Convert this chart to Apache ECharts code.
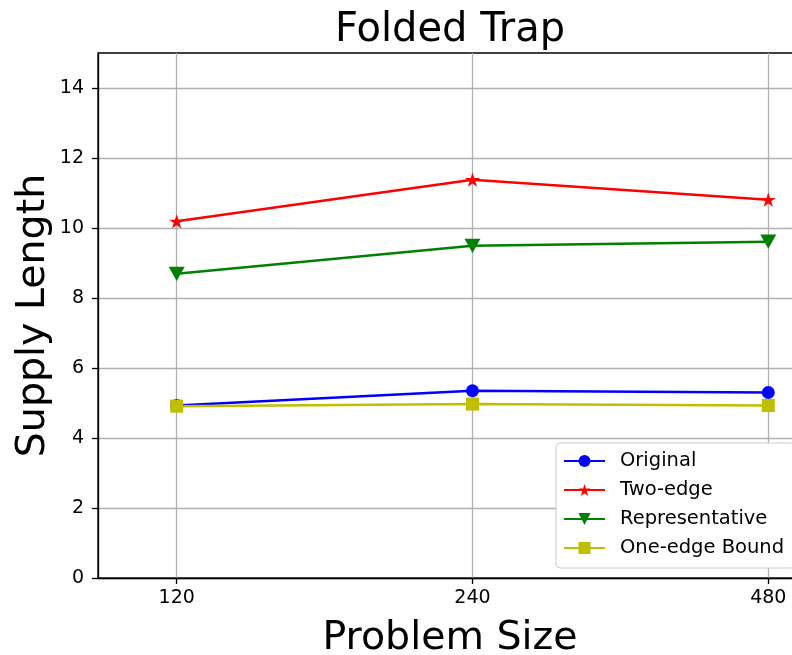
<!DOCTYPE html>
<html>
<head>
<meta charset="utf-8">
<script src="https://cdn.jsdelivr.net/npm/echarts@6/dist/echarts.min.js"></script>
<style>
  html, body { margin: 0; padding: 0; background: #fff; }
  #chart { width: 792px; height: 655px; }
</style>
</head>
<body>
<div id="chart"></div>
<script>
const sizes = ["120", "240", "480"];
const yTicks = [0, 2, 4, 6, 8, 10, 12, 14];

const original = [4.93, 5.35, 5.30];
const twoEdge = [10.19, 11.38, 10.81];
const representative = [8.69, 9.49, 9.61];
const oneEdge = [4.91, 4.97, 4.93];

const STAR = "path://M50,0L61.2,34.5L97.6,34.5L68.2,55.9L79.4,90.5L50,69.1L20.6,90.5L31.8,55.9L2.4,34.5L38.8,34.5Z";
const TRI_DOWN = "path://M0,0L100,0L50,90Z";
const FONT = "DejaVu Sans";

const chart = echarts.init(document.getElementById("chart"));

function mk(name, vals, color, symbol, size){
  return {
    name,
    type: "line",
    data: vals.map((v, i) => [i, v]),
    symbol,
    symbolSize: size,
    symbolKeepAspect: true,
    showSymbol: true,
    lineStyle: { color, width: 2.5 },
    itemStyle: { color, borderWidth: 0 },
    emphasis: { disabled: true },
    animation: false
  };
}

const series = [
  mk("Original", original, "#0000ff", "circle", 13),
  mk("Two-edge", twoEdge, "#ff0000", STAR, 15),
  mk("Representative", representative, "#008000", TRI_DOWN, 16),
  mk("One-edge Bound", oneEdge, "#bfbf00", "rect", 13)
];

chart.setOption({
  animation: false,
  backgroundColor: "#fff",
  textStyle: { fontFamily: FONT },
  title: {
    text: "Folded Trap",
    left: 450,
    textAlign: "center",
    top: 11,
    padding: 0,
    textStyle: { fontFamily: FONT, fontSize: 40, fontWeight: "normal", color: "#000" }
  },
  grid: {
    left: 98, right: -10, top: 53, bottom: 77,
    outerBoundsMode: "none",
    containLabel: false,
    show: true, borderColor: "#000", borderWidth: 1.3, backgroundColor: "transparent"
  },
  legend: {
    orient: "vertical",
    left: 556,
    top: 443,
    padding: [8, 11, 10, 7],
    itemWidth: 41,
    itemHeight: 15,
    itemGap: 9,
    backgroundColor: "#fff",
    borderColor: "#cccccc",
    borderWidth: 1,
    borderRadius: 4,
    textStyle: { fontFamily: FONT, fontSize: 19.5, lineHeight: 20, color: "#000", padding: [0, 0, 0, 10] },
    data: series.map(s => s.name)
  },
  xAxis: {
    type: "value",
    min: -0.266,
    max: 2.114,
    name: "Problem Size",
    nameLocation: "middle",
    nameGap: 41,
    nameTextStyle: { fontFamily: FONT, fontSize: 39.5, color: "#000" },
    axisLine: { show: true, onZero: false, lineStyle: { color: "#000", width: 1.3 } },
    axisTick: { show: true, length: 6, lineStyle: { color: "#000", width: 1.3 }, customValues: [0, 1, 2] },
    axisLabel: {
      customValues: [0, 1, 2],
      margin: 11,
      fontFamily: FONT, fontSize: 19, color: "#000",
      formatter: v => sizes[Math.round(v)] || ""
    },
    splitLine: { show: true, lineStyle: { color: "#b0b0b0", width: 1.3 } }
  },
  yAxis: {
    type: "value",
    min: 0,
    max: 15,
    name: "Supply Length",
    nameLocation: "middle",
    nameRotate: 90,
    nameGap: 44,
    nameMoveOverlap: false,
    nameTextStyle: { fontFamily: FONT, fontSize: 39.5, color: "#000" },
    axisLine: { show: true, onZero: false, lineStyle: { color: "#000", width: 1.3 } },
    axisTick: { show: true, length: 6, lineStyle: { color: "#000", width: 1.3 }, customValues: yTicks },
    axisLabel: { customValues: yTicks, margin: 14, fontFamily: FONT, fontSize: 19, color: "#000" },
    splitLine: { show: true, lineStyle: { color: "#b0b0b0", width: 1.3 } }
  },
  series
});
</script>
</body>
</html>
